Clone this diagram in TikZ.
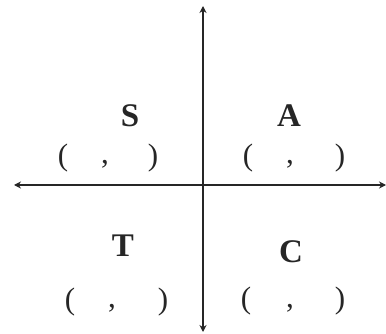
\documentclass[tikz,border=0pt]{standalone}
\usepackage{fontspec}
\setmainfont{Liberation Serif}
\usetikzlibrary{arrows.meta}
\begin{document}
\begin{tikzpicture}[x=1pt,y=-1pt,
  axis/.style={line width=2pt,color=black!85,{Stealth[length=7pt,width=7pt]}-{Stealth[length=7pt,width=7pt]}},
  letter/.style={font=\fontsize{33}{33}\selectfont\bfseries,inner sep=0pt,text=black!85},
  paren/.style={font=\fontsize{31}{31}\selectfont,inner sep=0pt,text=black!85}]
\useasboundingbox (0,0) rectangle (386,334);
\coordinate (top) at (203,6);
\coordinate (bot) at (203,332);
\coordinate (lft) at (14,185);
\coordinate (rgt) at (386,185);
\draw[axis] (top) -- (bot);
\draw[axis] (lft) -- (rgt);
\node[letter] (S) at (130,116) {S};
\node[letter] (A) at (289,116) {A};
\node[letter] (T) at (123,246) {T};
\node[letter] (C) at (291,252) {C};
\node[paren] (s1) at (63,158) {(};
\node[paren] (s2) at (105,164) {,};
\node[paren] (s3) at (153,158) {)};
\node[paren] (a1) at (248,158) {(};
\node[paren] (a2) at (290,164) {,};
\node[paren] (a3) at (340,158) {)};
\node[paren] (t1) at (70,302) {(};
\node[paren] (t2) at (112,308) {,};
\node[paren] (t3) at (163,302) {)};
\node[paren] (c1) at (246,301) {(};
\node[paren] (c2) at (290,308) {,};
\node[paren] (c3) at (340,301) {)};
\end{tikzpicture}
\end{document}
